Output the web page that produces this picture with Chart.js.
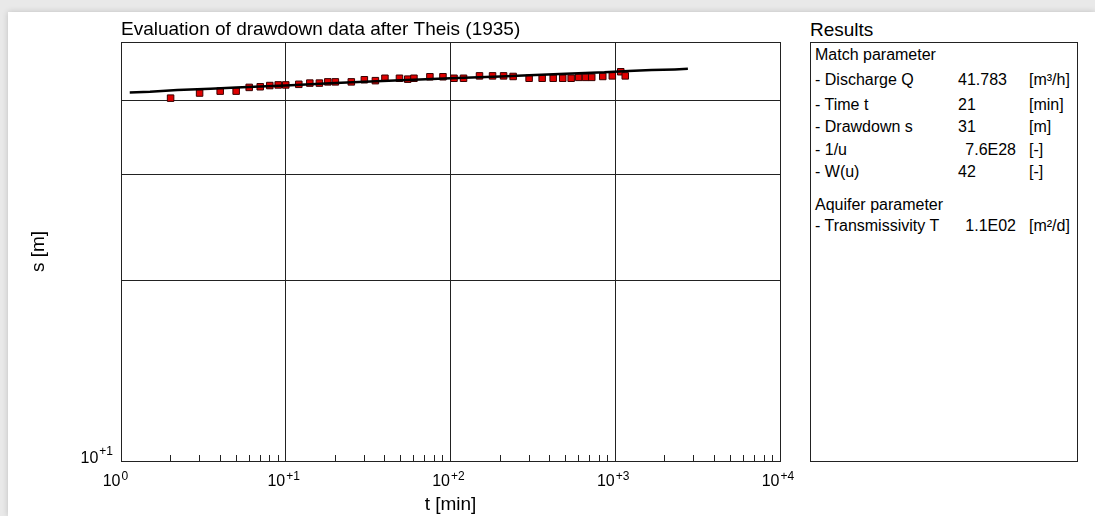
<!DOCTYPE html>
<html>
<head>
<meta charset="utf-8">
<script src="https://cdn.jsdelivr.net/npm/chart.js@4.4.1/dist/chart.umd.min.js"></script>
<style>
  html, body { margin: 0; padding: 0; }
  body { width: 1095px; height: 516px; background: #e9e9e9; position: relative; overflow: hidden;
         font-family: "Liberation Sans", Arial, sans-serif; color: #000; }
  #sheet { position: absolute; left: 8px; top: 12px; right: 0; bottom: 0; background: #fff;
           box-shadow: 0 0 6px rgba(0,0,0,0.18); }
  #cv { position: absolute; left: 0; top: 0; }
  #resTitle { position: absolute; left: 810px; top: 20px; font-size: 19px; line-height: 19px; white-space: nowrap; }
  #resBox { position: absolute; left: 810px; top: 42px; width: 266px; height: 418px; border: 1px solid #222; }
  .row { position: absolute; font-size: 16px; line-height: 16px; white-space: nowrap; }
</style>
</head>
<body>
<div id="sheet"></div>
<canvas id="cv" width="800" height="516"></canvas>
<div id="resTitle">Results</div>
<div id="resBox"></div>
<div id="rows"></div>
<script>
// ---- measured drawdown data (t in min, s in m) ----
const timeMin  = [2, 3, 4, 5, 6, 7, 8, 9, 10, 12, 14, 16, 18, 20, 25, 30, 35, 40, 49, 55, 60, 75, 90,
                  105, 120, 150, 180, 210, 240, 300, 360, 420, 480, 540, 600, 660, 720, 840, 960, 1080, 1150];
const drawdown = [40.3, 41.1, 41.4, 41.4, 42.0, 42.1, 42.3, 42.4, 42.4, 42.5, 42.7, 42.7, 42.9, 42.9, 42.9, 43.25, 43.1, 43.5, 43.5, 43.35, 43.5, 43.75, 43.75,
                  43.5, 43.5, 43.9, 43.9, 43.9, 43.8, 43.5, 43.5, 43.5, 43.5, 43.5, 43.65, 43.65, 43.65, 43.8, 43.9, 44.6, 43.9];

// ---- fitted Theis type curve ----
const curveT = [1.13, 1.5, 2.2, 3.5, 5, 7, 10, 20, 30, 50, 100, 200, 300, 500, 860, 1200, 1660, 2300, 2760];
const curveS = [41.2, 41.3, 41.6, 41.8, 42.0, 42.15, 42.3, 42.7, 42.9, 43.15, 43.5, 43.8, 44.0, 44.25, 44.5, 44.75, 44.9, 45.0, 45.1];

// ---- axis ticks ----
const xDecades      = [1, 10, 100, 1000, 10000];
const xDecadeBase   = ['10', '10', '10', '10', '10'];
const xDecadeExp    = ['0', '+1', '+2', '+3', '+4'];
const xMinorFactors = [2, 3, 4, 5, 6, 7, 8, 9];
const yTickValues   = [10, 20, 30, 40, 50];
const yLabelValues  = [10];
const yLabelBase    = ['10'];
const yLabelExp     = ['+1'];

// ---- results panel ----
const resultRows = [
  ['Match parameter', '', ''],
  ['- Discharge Q', '41.783', '[m\u00B3/h]'],
  ['- Time t', '21', '[min]'],
  ['- Drawdown s', '31', '[m]'],
  ['- 1/u', '7.6E28', '[-]'],
  ['- W(u)', '42', '[-]'],
  ['Aquifer parameter', '', ''],
  ['- Transmissivity T', '1.1E02', '[m\u00B2/d]']
];
const rowBaselines = [60.7, 85.3, 110, 132.7, 155, 177.7, 210.7, 231.7];

(function buildRows() {
  const host = document.getElementById('rows');
  resultRows.forEach((r, i) => {
    const top = rowBaselines[i] - 13.5;
    const a = document.createElement('div');
    a.className = 'row'; a.style.left = '815px'; a.style.top = top + 'px'; a.textContent = r[0];
    host.appendChild(a);
    if (r[1]) {
      const b = document.createElement('div');
      b.className = 'row'; b.style.top = top + 'px'; b.textContent = r[1];
      if (r[1].indexOf('E') >= 0) { b.style.right = (1095 - 1016) + 'px'; }
      else { b.style.left = '958px'; }
      host.appendChild(b);
    }
    if (r[2]) {
      const c = document.createElement('div');
      c.className = 'row'; c.style.left = '1029px'; c.style.top = top + 'px'; c.textContent = r[2];
      host.appendChild(c);
    }
  });
})();

const xTickValues = [];
xDecades.forEach((d, i) => {
  xTickValues.push(d);
  if (i < xDecades.length - 1) xMinorFactors.forEach(f => xTickValues.push(d * f));
});

const LINE = '#222';
const FONT = '"Liberation Sans", Arial, sans-serif';

// draws "10" with a raised exponent at the scale's own tick positions
const powerLabels = {
  id: 'powerLabels',
  afterDraw(chart) {
    const ctx = chart.ctx;
    const xs = chart.scales.x, ys = chart.scales.y;
    ctx.save();
    ctx.fillStyle = '#000';
    ctx.textBaseline = 'alphabetic';
    const base = xs.top + 25;
    xDecades.forEach((v, i) => {
      const px = xs.getPixelForValue(v);
      ctx.font = '16px ' + FONT;
      ctx.textAlign = 'right';
      ctx.fillText(xDecadeBase[i], px - 0.5, base);
      ctx.font = '12px ' + FONT;
      ctx.textAlign = 'left';
      ctx.fillText(xDecadeExp[i], px + 0.5, base - 6);
    });
    yLabelValues.forEach((v, i) => {
      const py = ys.getPixelForValue(v);
      const right = ys.right - 8;
      ctx.font = '12px ' + FONT;
      ctx.textAlign = 'right';
      const ew = ctx.measureText(yLabelExp[i]).width;
      ctx.fillText(yLabelExp[i], right, py - 6);
      ctx.font = '16px ' + FONT;
      ctx.fillText(yLabelBase[i], right - ew - 1, py + 2);
    });
    ctx.restore();
  }
};

new Chart(document.getElementById('cv'), {
  type: 'scatter',
  data: {
    datasets: [
      {
        label: 'Theis curve',
        data: curveT.map((t, i) => ({x: t, y: curveS[i]})),
        showLine: true,
        borderColor: '#000',
        borderWidth: 2.5,
        pointRadius: 0,
        tension: 0
      },
      {
        label: 'Drawdown',
        data: timeMin.map((t, i) => ({x: t, y: drawdown[i]})),
        showLine: false,
        pointStyle: 'rect',
        pointRadius: 4.6,
        backgroundColor: '#e00000',
        borderColor: '#3a0000',
        borderWidth: 1
      }
    ]
  },
  plugins: [powerLabels],
  options: {
    responsive: false,
    animation: false,
    devicePixelRatio: 1,
    layout: { padding: { left: 0, right: 20, top: 0, bottom: 0 } },
    plugins: {
      legend: { display: false },
      tooltip: { enabled: false },
      title: {
        display: true,
        text: 'Evaluation of drawdown data after Theis (1935)',
        align: 'start',
        fullSize: false,
        color: '#000',
        font: { family: FONT, size: 19, weight: 'normal' },
        padding: { top: 18.5, bottom: 0.7 }
      }
    },
    scales: {
      x: {
        type: 'logarithmic',
        position: 'bottom',
        min: 1,
        max: 10000,
        afterBuildTicks: (axis) => { axis.ticks = xTickValues.map(v => ({value: v})); },
        afterFit: (axis) => { axis.height = 55; },
        ticks: {
          autoSkip: false,
          maxRotation: 0,
          padding: 13,
          color: '#000',
          font: { family: FONT, size: 16 },
          callback: () => ''
        },
        grid: {
          drawTicks: true,
          tickLength: -6,
          tickColor: LINE,
          tickWidth: 1,
          lineWidth: 1,
          color: (ctx) => (ctx.tick && xDecades.indexOf(ctx.tick.value) >= 0) ? LINE : 'rgba(0,0,0,0)'
        },
        border: { display: true, color: LINE, width: 1 },
        title: {
          display: true,
          text: 't [min]',
          color: '#000',
          font: { family: FONT, size: 19 },
          padding: { top: 0, bottom: 0 }
        }
      },
      y: {
        type: 'logarithmic',
        position: 'left',
        min: 10,
        max: 50,
        afterBuildTicks: (axis) => { axis.ticks = yTickValues.map(v => ({value: v})); },
        afterFit: (axis) => { axis.width = 121; },
        ticks: {
          autoSkip: false,
          padding: 8,
          color: '#000',
          font: { family: FONT, size: 16 },
          callback: () => ''
        },
        grid: {
          drawTicks: false,
          lineWidth: 1,
          color: LINE
        },
        border: { display: true, color: LINE, width: 1 },
        title: {
          display: true,
          text: 's [m]',
          color: '#000',
          font: { family: FONT, size: 19 },
          padding: { top: 27, bottom: 0 }
        }
      }
    }
  }
});
</script>
</body>
</html>
